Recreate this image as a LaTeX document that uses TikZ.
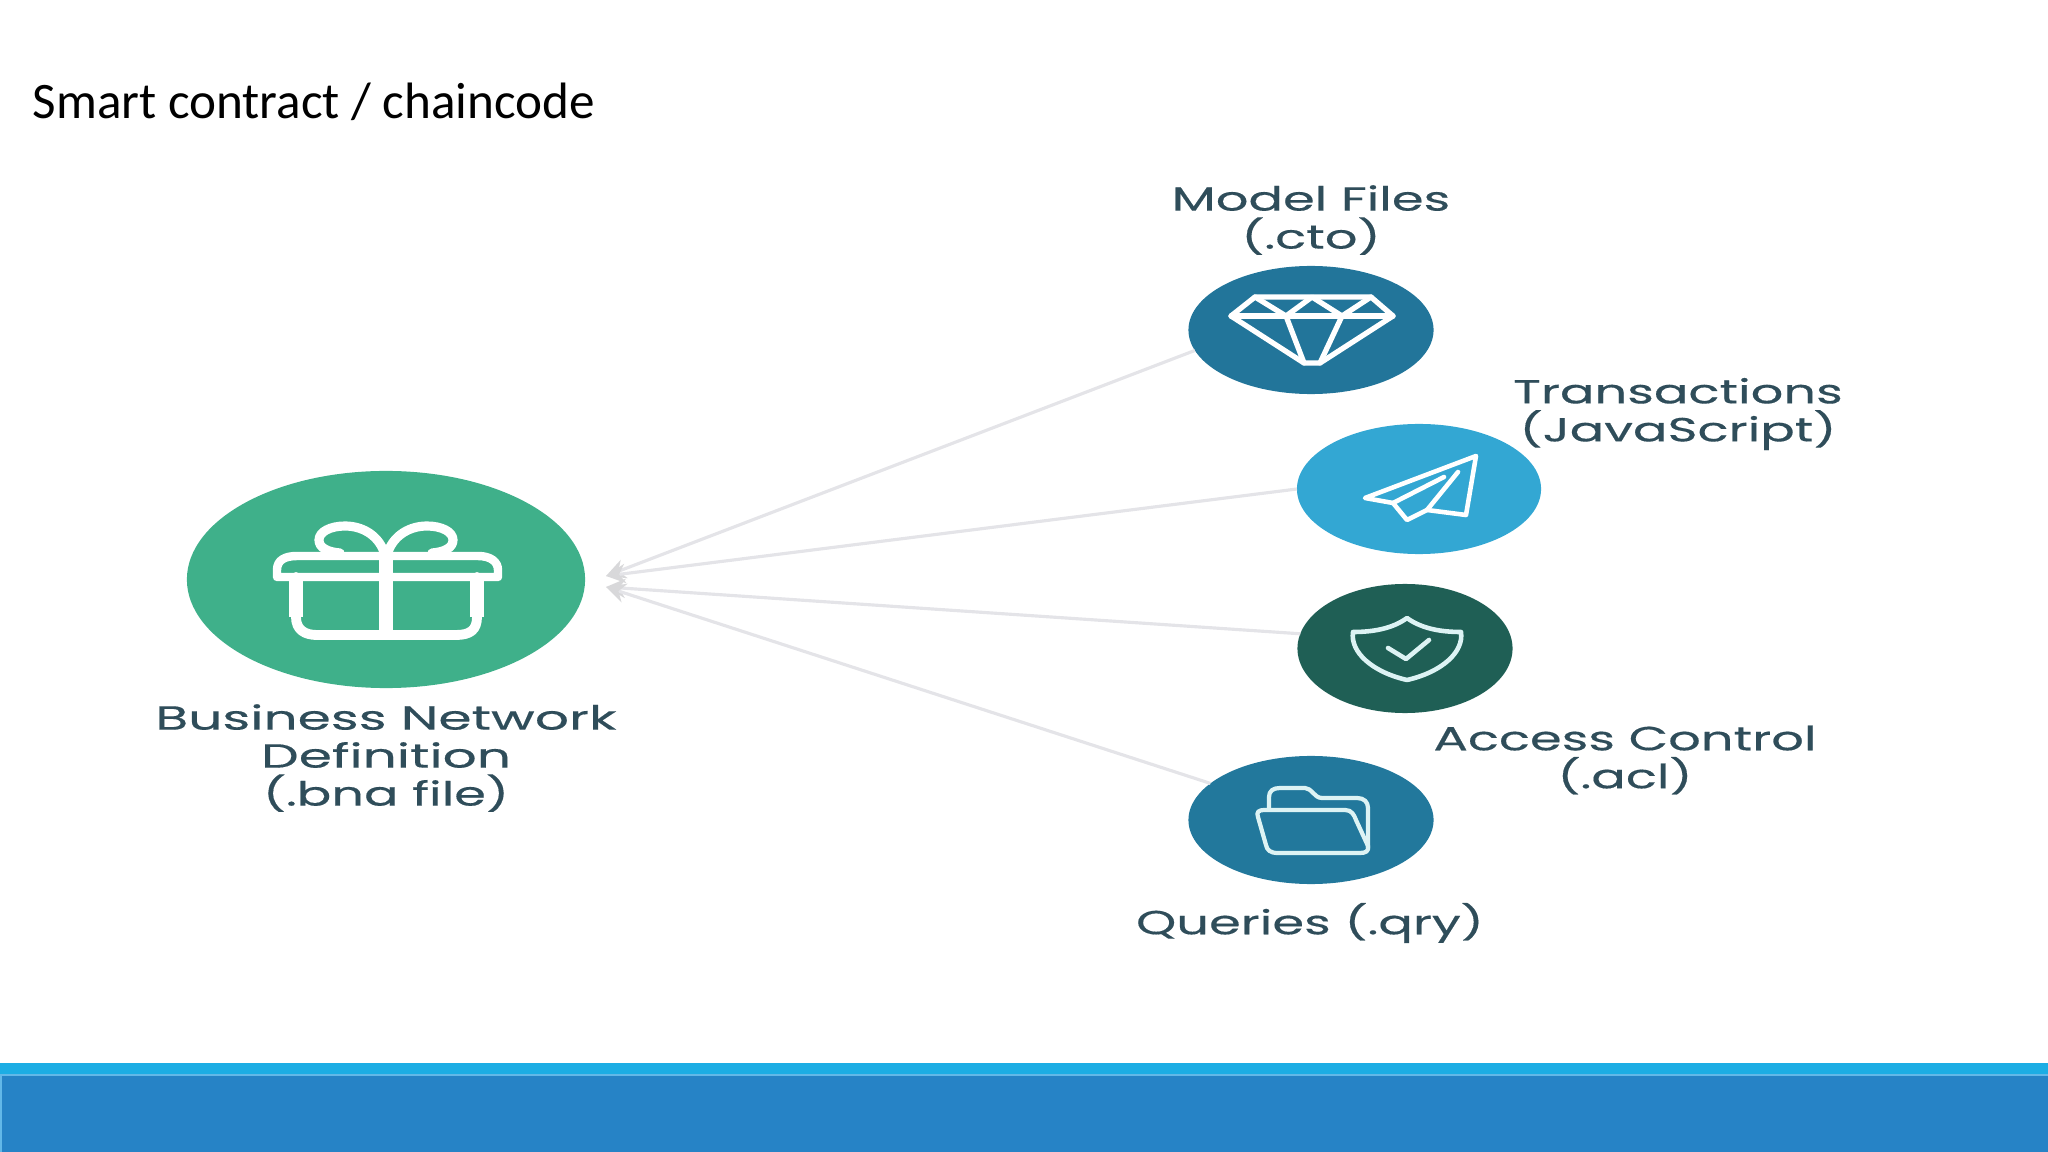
\documentclass[tikz,border=0pt]{standalone}
\usepackage{fontspec}
\setmainfont{Carlito}
\newfontfamily\labelfont[FakeStretch=1.53,FakeBold=0.4]{Poppins}
\newfontfamily\widelabelfont[FakeStretch=1.6,FakeBold=0.4]{Poppins}
\usetikzlibrary{arrows.meta, positioning, shapes.geometric}
\definecolor{bandlight}{HTML}{1CADE4}
\definecolor{banddark}{HTML}{2683C6}
\definecolor{bandedge}{HTML}{62B8E8}
\definecolor{giftgreen}{HTML}{3FB08A}
\definecolor{gemblue}{HTML}{22759A}
\definecolor{planeblue}{HTML}{33A7D3}
\definecolor{shieldgreen}{HTML}{1F5F55}
\definecolor{folderblue}{HTML}{22789C}
\definecolor{labeltext}{HTML}{2F4D5A}
\definecolor{linkgray}{HTML}{E4E4E8}
\definecolor{tipgray}{HTML}{D8D8DA}
\definecolor{iconpale}{HTML}{DDF3F4}
\tikzset{
  blob/.style={ellipse, inner sep=0pt, outer sep=0pt},
  itemlabel/.style={align=center, text=labeltext, inner sep=0pt, font=\labelfont\fontsize{9.5}{10.8}\selectfont},
  link/.style={draw=linkgray, line width=0.9pt, -{Stealth[length=5.5pt,width=5.5pt,color=tipgray]}},
  icon/.style={draw=white, line join=round, line cap=round}
}
\begin{document}
\begin{tikzpicture}[x=0.01cm, y=-0.01cm]
\useasboundingbox (0,0) rectangle (2048,1152);
% footer band
\fill[bandlight] (0,1063) rectangle (2048,1075);
\fill[banddark] (0,1075) rectangle (2048,1152);
\draw[bandedge, line width=0.4pt] (1,1152) -- (1,1075) -- (2048,1075);
% title
\node[anchor=base west, inner sep=0pt, font=\fontsize{14.55}{17}\selectfont] (title) at (32,119) {Smart contract / chaincode};
% hub points
\coordinate (hubup) at (606,576);
\coordinate (hubdown) at (606,587);
% circles
\node[blob, fill=giftgreen, minimum width=3.98cm, minimum height=2.17cm] (gift) at (386,579.5) {};
\node[blob, fill=gemblue, minimum width=2.45cm, minimum height=1.28cm] (model) at (1311,330) {};
\node[blob, fill=planeblue, minimum width=2.44cm, minimum height=1.3cm] (trans) at (1419,489) {};
\node[blob, fill=shieldgreen, minimum width=2.15cm, minimum height=1.29cm] (access) at (1405,648.5) {};
\node[blob, fill=folderblue, minimum width=2.45cm, minimum height=1.28cm] (query) at (1311,820) {};
% connectors
\draw[link] (model.190) -- (hubup);
\draw[link] (trans.180) -- (hubup);
\draw[link] (access.172) -- (hubdown);
\draw[link] (query.160) -- (hubdown);
% labels
\node[itemlabel] (giftlabel) at (386,758) {{\widelabelfont Business Network}\\{\widelabelfont Definition}\\(.bna file)};
\node[itemlabel] (modellabel) at (1311,220) {Model Files\\(.cto)};
\node[itemlabel] (translabel) at (1678,414) {Transactions\\(JavaScript)};
\node[itemlabel] (accesslabel) at (1625,760) {Access Control\\(.acl)};
\node[itemlabel] (querylabel) at (1310,923) {Queries (.qry)};
% gift icon
\draw[icon, line width=2.4pt] (277,577) -- (277,570) .. controls (277,560) and (285,556) .. (297,556) -- (478,556) .. controls (491,556) and (498,562) .. (498,570) -- (498,577) -- cycle;
\draw[icon, line width=2.8pt] (296,577) -- (296,617) .. controls (296,630) and (305,635) .. (317,635) -- (456,635) .. controls (470,635) and (477,630) .. (477,617) -- (477,577);
\draw[icon, line width=4pt, line cap=butt] (296,577) -- (296,617);
\draw[icon, line width=4pt, line cap=butt] (477,577) -- (477,617);
\draw[icon, line width=4.2pt, line cap=butt] (386,552) -- (386,635);
\draw[icon, line width=2.6pt] (384,552) .. controls (378,535) and (362,526) .. (345,526) .. controls (330,526) and (319,532) .. (319,540) .. controls (319,548) and (328,552) .. (340,553);
\draw[icon, line width=2.6pt] (388,552) .. controls (394,535) and (410,526) .. (427,526) .. controls (442,526) and (453,532) .. (453,540) .. controls (453,548) and (444,552) .. (432,553);
% gem icon
\draw[icon, line width=1.5pt] (1255,297) -- (1371,297) -- (1393,316) -- (1320,363) -- (1304,363) -- (1231,316) -- cycle;
\draw[icon, line width=1.5pt] (1231,316) -- (1393,316);
\draw[icon, line width=1.5pt] (1255,297) -- (1286,316) -- (1312,297) -- (1342,316) -- (1371,297);
\draw[icon, line width=1.5pt] (1286,316) -- (1304,363);
\draw[icon, line width=1.5pt] (1342,316) -- (1320,363);
% plane icon
\draw[icon, line width=1.3pt] (1476,456) -- (1365,498) -- (1393,503) -- (1407,520) -- (1427,510) -- (1466,515) -- cycle;
\draw[icon, line width=1.3pt] (1393,503) -- (1444,477);
\draw[icon, line width=1.3pt] (1427,510) -- (1458,472);
% shield icon
\draw[icon, draw=iconpale, line width=1.3pt] (1407,618) .. controls (1392,629) and (1372,632) .. (1353,632) .. controls (1350,652) and (1372,672) .. (1407,680) .. controls (1442,672) and (1464,652) .. (1461,632) .. controls (1442,632) and (1422,629) .. (1407,618) -- cycle;
\draw[icon, draw=iconpale, line width=1.3pt] (1388,648) -- (1406,659) -- (1429,640);
% folder icon
\draw[icon, draw=iconpale, line width=1.2pt] (1269,808) -- (1269,797) .. controls (1269,791) and (1273,788) .. (1280,788) -- (1305,788) .. controls (1312,788) and (1314,798) .. (1322,798) -- (1357,798) .. controls (1364,798) and (1368,802) .. (1368,808) -- (1368,848);
\draw[icon, draw=iconpale, line width=1.2pt] (1258,817) .. controls (1256,812) and (1259,810) .. (1264,810) -- (1345,810) .. controls (1352,810) and (1354,815) .. (1356,820) -- (1368,846) .. controls (1369,851) and (1366,853) .. (1360,853) -- (1278,853) .. controls (1270,853) and (1267,850) .. (1266,845) -- cycle;
\end{tikzpicture}
\end{document}
